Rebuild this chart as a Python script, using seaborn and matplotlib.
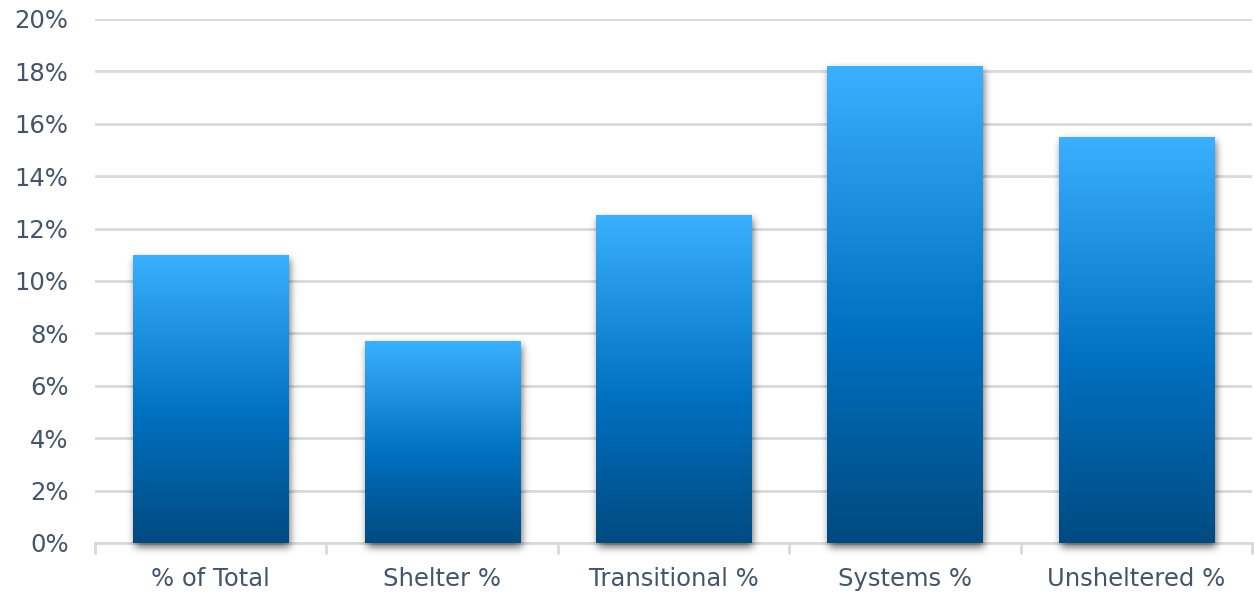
import numpy as np
import pandas as pd
import matplotlib
matplotlib.use("Agg")
import matplotlib.pyplot as plt
import seaborn as sns
from matplotlib.colors import LinearSegmentedColormap
from matplotlib.ticker import FixedLocator, FuncFormatter

categories = ["% of Total", "Shelter %", "Transitional %", "Systems %", "Unsheltered %"]
values = [11.0, 7.7, 12.5, 18.2, 15.5]
y_ticks = [0, 2, 4, 6, 8, 10, 12, 14, 16, 18, 20]

sns.set_theme(style="white")
plt.rcParams["font.family"] = ["DejaVu Sans"]

text_color = "#44546A"
grid_color = "#D9D9D9"

fig = plt.figure(figsize=(12.54, 5.92), dpi=100)
ax = fig.add_axes([95 / 1254, 1 - 543 / 592, (1252 - 95) / 1254, (543 - 19) / 592])

df = pd.DataFrame({"category": categories, "value": values})
sns.barplot(data=df, x="category", y="value", width=0.67, color="#0070C0", ax=ax, zorder=3)

xlim = (-0.5, len(categories) - 0.5)
ylim = (0, 20)
ax.set_xlim(*xlim)
ax.set_ylim(*ylim)
ax.set_xlabel("")
ax.set_ylabel("")

# gridlines and axis styling
ax.yaxis.set_major_locator(FixedLocator(y_ticks))
ax.yaxis.set_major_formatter(FuncFormatter(lambda v, _: f"{v:.0f}%"))
ax.grid(axis="y", color=grid_color, linewidth=2, zorder=0)
ax.set_axisbelow(True)
for side in ["top", "right", "left"]:
    ax.spines[side].set_visible(False)
ax.spines["bottom"].set_color(grid_color)
ax.spines["bottom"].set_linewidth(2)
ax.spines["bottom"].set_zorder(1)

ax.tick_params(axis="y", length=0, pad=19, labelsize=17.5, labelcolor=text_color)
ax.tick_params(axis="x", which="major", length=0, pad=17, labelsize=17.5, labelcolor=text_color)
ax.xaxis.set_minor_locator(FixedLocator(np.arange(-0.5, len(categories), 1.0)))
ax.tick_params(axis="x", which="minor", length=8, width=2, color=grid_color, direction="out", bottom=True)

fig.canvas.draw()
px_x = 1.0 / (ax.transData.transform((1, 0))[0] - ax.transData.transform((0, 0))[0])
px_y = 1.0 / (ax.transData.transform((0, 1))[1] - ax.transData.transform((0, 0))[1])

# soft drop shadow, rendered as a blurred alpha image on a pixel grid
pad_px = 20
nx = int(round((xlim[1] - xlim[0]) / px_x))
ny = int(round((ylim[1] - ylim[0]) / px_y)) + pad_px
y_bottom = ylim[0] - pad_px * px_y
xs = xlim[0] + (np.arange(nx) + 0.5) * px_x
ys = y_bottom + (np.arange(ny) + 0.5) * px_y
mask = np.zeros((ny, nx))
off_x, off_y = 2 * px_x, -4 * px_y
for patch in ax.patches:
    x0, y0 = patch.get_x() + off_x, patch.get_y() + off_y
    x1, y1 = x0 + patch.get_width(), y0 + patch.get_height()
    mask[np.ix_((ys >= y0) & (ys <= y1), (xs >= x0) & (xs <= x1))] = 1.0

sigma = 4.0
k = np.arange(-12, 13)
kern = np.exp(-0.5 * (k / sigma) ** 2)
kern /= kern.sum()
blur = np.apply_along_axis(lambda r: np.convolve(r, kern, mode="same"), 1, mask)
blur = np.apply_along_axis(lambda c: np.convolve(c, kern, mode="same"), 0, blur)
shadow = np.zeros((ny, nx, 4))
shadow[..., 3] = 0.6 * blur
ax.imshow(shadow, extent=(xlim[0], xlim[1], y_bottom, ylim[1]), origin="lower",
          aspect="auto", zorder=2, clip_on=False, interpolation="nearest")

# vertical gradient fill for bars
cmap = LinearSegmentedColormap.from_list(
    "bar_grad", [(0.0, "#004A80"), (0.44, "#0070C0"), (1.0, "#3AB0FF")]
)
grad = np.linspace(0, 1, 256).reshape(-1, 1)
for patch in list(ax.patches):
    x0, y0 = patch.get_x(), patch.get_y()
    w, h = patch.get_width(), patch.get_height()
    patch.set_facecolor("none")
    patch.set_edgecolor("none")
    im = ax.imshow(grad, extent=(x0, x0 + w, y0, y0 + h), origin="lower",
                   cmap=cmap, aspect="auto", zorder=4, interpolation="bicubic")
    im.set_clip_path(patch)

ax.set_xlim(*xlim)
ax.set_ylim(*ylim)

fig.savefig("out.png", dpi=100)
